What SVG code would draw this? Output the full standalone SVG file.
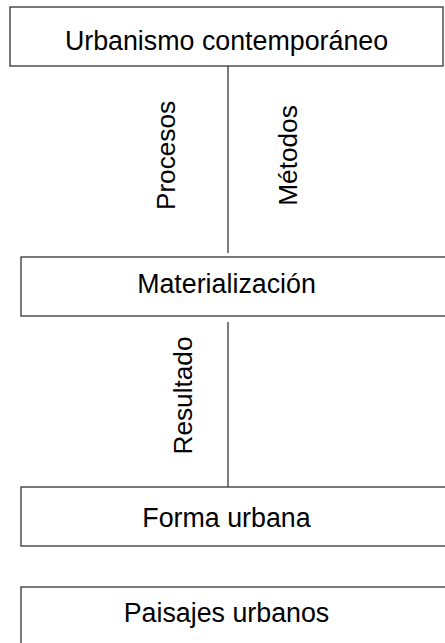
<svg xmlns="http://www.w3.org/2000/svg" width="445" height="643" viewBox="0 0 445 643">
<style>
.box{fill:#fff;stroke:#333;stroke-width:1.3}
.t{font-family:"Liberation Sans",Arial,sans-serif;font-size:26.8px;fill:#000;text-anchor:middle}
.v{font-family:"Liberation Sans",Arial,sans-serif;font-size:26.2px;fill:#000;text-anchor:middle}
.ln{stroke:#333;stroke-width:1.3;fill:none}
</style>
<rect width="445" height="643" fill="#fff"/>
<g id="connectors">
<line class="ln" x1="228" y1="66" x2="228" y2="253"/>
<line class="ln" x1="228" y1="322" x2="228" y2="487"/>
<text class="v" transform="translate(175,155.5) rotate(-90)">Procesos</text>
<text class="v" transform="translate(297,155.5) rotate(-90)">Métodos</text>
<text class="v" transform="translate(192,395.5) rotate(-90)">Resultado</text>
</g>
<g id="n1">
<rect class="box" x="10" y="7" width="433" height="59"/>
<text class="t" x="226.5" y="50">Urbanismo contemporáneo</text>
</g>
<g id="n2">
<rect class="box" x="21" y="257" width="440" height="59"/>
<text class="t" x="226.5" y="293.3">Materialización</text>
</g>
<g id="n3">
<rect class="box" x="21" y="487" width="440" height="59"/>
<text class="t" x="226.5" y="526.7">Forma urbana</text>
</g>
<g id="n4">
<rect class="box" x="21" y="587" width="440" height="70"/>
<text class="t" x="226.5" y="621.7">Paisajes urbanos</text>
</g>
</svg>
